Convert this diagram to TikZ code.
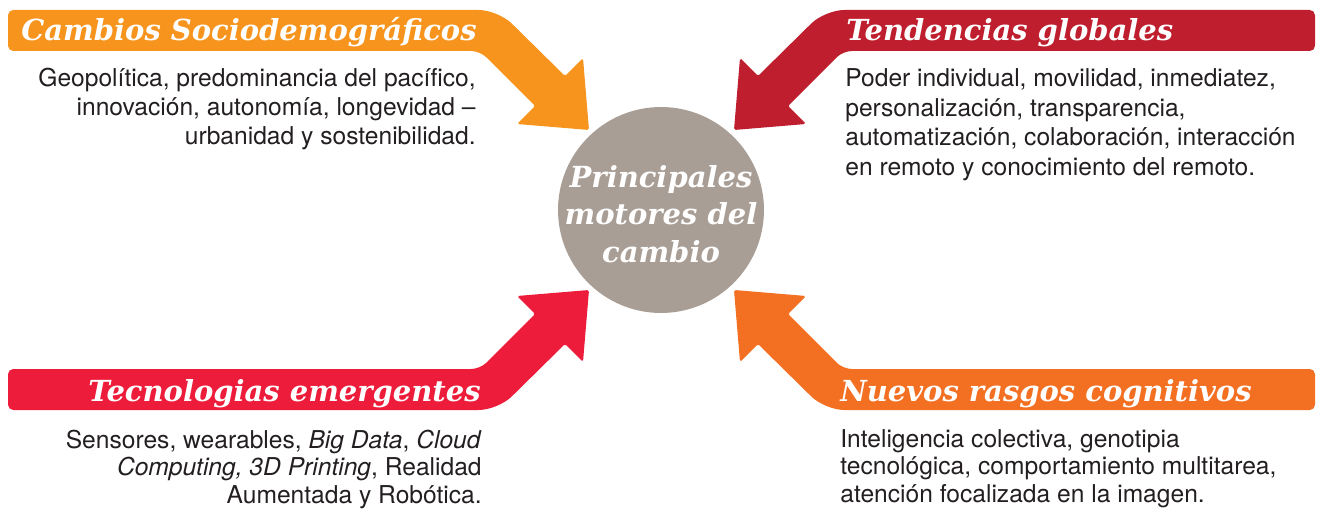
\documentclass[tikz,border=0pt]{standalone}
\usepackage{fontspec}
\setmainfont{TeX Gyre Heros}
\newfontfamily\titlefont{DejaVu Serif}
\definecolor{cOrangeA}{HTML}{F7941D}
\definecolor{cCrimson}{HTML}{BE1E2D}
\definecolor{cRed}{HTML}{ED1C3A}
\definecolor{cOrangeB}{HTML}{F36F21}
\definecolor{cGray}{HTML}{A99E95}
\definecolor{cText}{HTML}{231F20}
\begin{document}
\begin{tikzpicture}[x=0.02cm,y=-0.02cm,
  titletext/.style={font=\titlefont\bfseries\itshape\fontsize{16.5}{19}\selectfont, text=white, inner sep=0pt},
  bodytext/.style={font=\fontsize{14}{16.7}\selectfont, text=cText, inner sep=0pt},
  hub/.style={circle, fill=cGray, minimum size=4.12cm, inner sep=0pt},
  hubtext/.style={align=center, text=white, inner sep=0pt,
    font=\titlefont\bfseries\itshape\fontsize{16.5}{21.3}\selectfont},
]
\useasboundingbox (0,0) rectangle (1320,510);

% arrows
\fill[cOrangeA] (8,30) [rounded corners=3pt] -- (8,10) [rounded corners=11pt] -- (498,10) [rounded corners=1pt] -- (565,76) -- (583,58) -- (589,130) -- (517,124) -- (535,106) [rounded corners=5pt] -- (480,51) [rounded corners=3pt] -- (8,51) -- cycle;
\fill[cCrimson] (1315,30) [rounded corners=3pt] -- (1315,10) [rounded corners=11pt] -- (825,10) [rounded corners=1pt] -- (758,76) -- (740,58) -- (734,130) -- (806,124) -- (788,106) [rounded corners=5pt] -- (843,51) [rounded corners=3pt] -- (1315,51) -- cycle;
\fill[cRed] (8,390) [rounded corners=3pt] -- (8,410) [rounded corners=11pt] -- (498,410) [rounded corners=1pt] -- (565,344) -- (583,362) -- (589,290) -- (517,296) -- (535,314) [rounded corners=5pt] -- (480,369) [rounded corners=3pt] -- (8,369) -- cycle;
\fill[cOrangeB] (1315,390) [rounded corners=3pt] -- (1315,410) [rounded corners=11pt] -- (825,410) [rounded corners=1pt] -- (758,344) -- (740,362) -- (734,290) -- (806,296) -- (788,314) [rounded corners=5pt] -- (843,369) [rounded corners=3pt] -- (1315,369) -- cycle;

% hub
\node[hub] (hub) at (661,210) {};
\node[hubtext, anchor=base] (hubtext) at (661,262) {Principales\\motores del\\cambio};

% titles
\node[titletext, anchor=base east] (t1) at (477,41) {Cambios Sociodemográficos};
\node[titletext, anchor=base west] (t2) at (846,41) {Tendencias globales};
\node[titletext, anchor=base east] (t3) at (481,401) {Tecnologias emergentes};
\node[titletext, anchor=base west] (t4) at (840,401) {Nuevos rasgos cognitivos};

% bodies (anchor on last line baseline)
\node[bodytext, align=right, anchor=base east] (b1) at (476,145)
  {Geopolítica, predominancia del pacífico,\\innovación, autonomía, longevidad –\\urbanidad y sostenibilidad.};
\node[bodytext, align=left, anchor=base west] (b2) at (845,175)
  {Poder individual, movilidad, inmediatez,\\personalización, transparencia,\\automatización, colaboración, interacción\\en remoto y conocimiento del remoto.};
\node[bodytext, align=right, anchor=base east, font=\fontsize{14}{15.6}\selectfont] (b3) at (482,503)
  {Sensores, wearables, \textit{Big Data}, \textit{Cloud}\\\textit{Computing, 3D Printing}, Realidad\\Aumentada y Robótica.};
\node[bodytext, align=left, anchor=base west, font=\fontsize{14}{15.6}\selectfont] (b4) at (840,502)
  {Inteligencia colectiva, genotipia\\tecnológica, comportamiento multitarea,\\atención focalizada en la imagen.};
\end{tikzpicture}
\end{document}
